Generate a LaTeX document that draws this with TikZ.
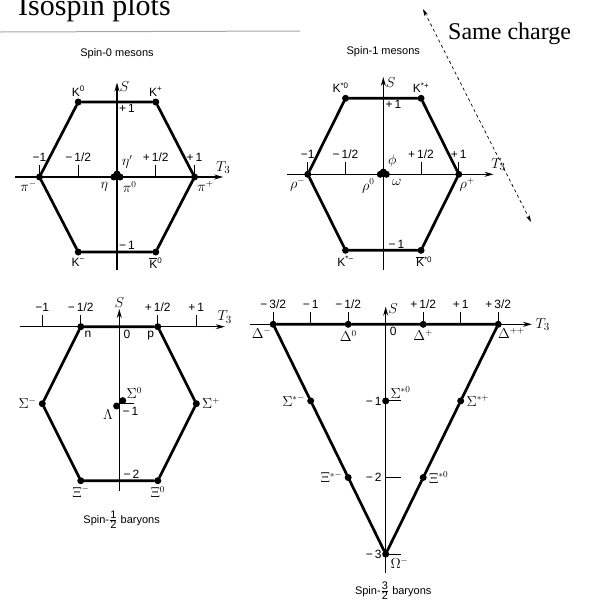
\documentclass[tikz,border=0pt]{standalone}
\usepackage{fontspec}
\setmainfont{Liberation Serif}
\setsansfont{Liberation Sans}
\usetikzlibrary{arrows.meta,positioning}
\tikzset{
  multiplet/.style={line width=2.7pt,line cap=round},
  axisline/.style={line width=1.1pt,-{Stealth[length=9pt,width=5pt]}},
  tickline/.style={line width=1.1pt},
  particle/.style={circle,fill,inner sep=0pt,minimum size=7pt},
  lbl/.style={font=\sffamily\fontsize{12}{13}\selectfont,inner sep=1pt},
  greek/.style={font=\fontsize{13.5}{14}\selectfont,inner sep=1pt},
  axislabel/.style={font=\fontsize{15}{16}\selectfont,inner sep=1pt},
  plottitle/.style={font=\sffamily\fontsize{11}{12}\selectfont},
}
\newcommand{\isotick}[3]{%
  \draw[tickline] (#2,0) -- ++(0,12pt) node[lbl,above=2pt] (#1) {#3};
}

\begin{document}
\begin{tikzpicture}[x=1pt,y=-1pt]
  \useasboundingbox (0,0) rectangle (598,603);
  % heading and the charge arrow
  \node[anchor=base west,font=\fontsize{30}{32}\selectfont,inner sep=0pt] (heading) at (18,15) {Isospin plots};
  \draw[gray!70,line width=1pt] (0,32) -- (300,31);
  \node[anchor=base west,font=\fontsize{24}{26}\selectfont,inner sep=0pt] (samecharge) at (448,39) {Same charge};
  \coordinate (chargetop) at (423,9);
  \coordinate (chargebot) at (531,222);
  \draw[line width=.7pt,dash pattern=on 3pt off 3pt,{Stealth[length=7pt,width=4pt]}-{Stealth[length=7pt,width=4pt]}] (chargetop) -- (chargebot);

  % spin-0 mesons
  \begin{scope}[shift={(117,177)},x=77.5pt,y=75pt]
    \node[plottitle] (spinzero) at (0,1.65) {Spin-0 mesons};
    \coordinate (a-left) at (-1.32,0);
    \coordinate (a-right) at (1.37,0);
    \coordinate (a-bot) at (0,-1.24);
    \coordinate (a-top) at (0,1.26);
    \draw[axisline] (a-left) -- (a-right) node[axislabel,above=2pt] (a-t3) {$T_3$};
    \draw[axisline] (a-bot) -- (a-top) node[axislabel,right=1pt,yshift=-4pt] (a-s) {$S$};
    \isotick{a-m1}{-1}{−1}
    \isotick{a-mh}{-.5}{−\,1/2}
    \isotick{a-ph}{.5}{+\,1/2}
    \isotick{a-p1}{1}{+\,1}
    \node[particle] (K0) at (-.5,1) {};
    \node[particle] (Kp) at (.5,1) {};
    \node[particle] (pip) at (1,0) {};
    \node[particle] (Kb0) at (.5,-1) {};
    \node[particle] (Km) at (-.5,-1) {};
    \node[particle] (pim) at (-1,0) {};
    \node[particle] (eta) at (-.04,0) {};
    \node[particle] (pi0) at (.04,0) {};
    \node[particle] (etap) at (0,.04) {};
    \draw[multiplet] (K0) -- (Kp) -- (pip) -- (Kb0) -- (Km) -- (pim) -- (K0);
    \node[lbl,above=1pt of K0] (K0l) {K\textsuperscript{0}};
    \node[lbl,above=1pt of Kp] (Kpl) {K\textsuperscript{+}};
    \node[lbl,below=1pt of Km] (Kml) {K\textsuperscript{−}};
    \node[lbl,below=1pt of Kb0] (Kb0l) {$\overline{\mbox{K}}$\textsuperscript{0}};
    \node[greek,below left=0pt and -1pt of pim] (piml) {$\pi^-$};
    \node[greek,below right=0pt and -1pt of pip] (pipl) {$\pi^+$};
    \node[greek,below left=1pt and 2pt of eta] (etal) {$\eta$};
    \node[greek,below right=1pt and -1pt of pi0] (pi0l) {$\pi^0$};
    \node[greek,above right=2pt and 1pt of etap] (etapl) {$\eta'$};
    \node[lbl,below right=1pt and 1pt] (a-s1) at (0,1) {+\,1};
    \node[lbl,above right=1pt and 1pt] (a-sm1) at (0,-1) {−\,1};
  \end{scope}

  % spin-1 mesons
  \begin{scope}[shift={(383.3,174.3)},x=75.5pt,y=76pt]
    \node[plottitle] (spinone) at (0,1.62) {Spin-1 mesons};
    \coordinate (b-left) at (-1.28,0);
    \coordinate (b-right) at (1.46,0);
    \coordinate (b-bot) at (0,-1.26);
    \coordinate (b-top) at (0,1.28);
    \draw[axisline] (b-left) -- (b-right) node[axislabel,above=2pt,xshift=5pt] (b-t3) {$T_3$};
    \draw[axisline] (b-bot) -- (b-top) node[axislabel,right=1pt,yshift=-6pt] (b-s) {$S$};
    \isotick{b-m1}{-1}{−1}
    \isotick{b-mh}{-.5}{−\,1/2}
    \isotick{b-ph}{.5}{+\,1/2}
    \isotick{b-p1}{1}{+\,1}
    \node[particle] (Ks0) at (-.5,1) {};
    \node[particle] (Ksp) at (.5,1) {};
    \node[particle] (rhop) at (1,0) {};
    \node[particle] (Ksb0) at (.5,-1) {};
    \node[particle] (Ksm) at (-.5,-1) {};
    \node[particle] (rhom) at (-1,0) {};
    \node[particle] (rho0) at (-.04,0) {};
    \node[particle] (omega) at (.04,0) {};
    \node[particle] (phi) at (0,.03) {};
    \draw[multiplet] (Ks0) -- (Ksp) -- (rhop) -- (Ksb0) -- (Ksm) -- (rhom) -- (Ks0);
    \node[lbl,above=1pt of Ks0,xshift=-5pt] (Ks0l) {K\textsuperscript{*0}};
    \node[lbl,above=1pt of Ksp] (Kspl) {K\textsuperscript{*+}};
    \node[lbl,below=1pt of Ksm] (Ksml) {K\textsuperscript{*−}};
    \node[lbl,below=1pt of Ksb0,xshift=3pt] (Ksb0l) {$\overline{\mbox{K}}$\textsuperscript{*0}};
    \node[greek,below left=0pt and -1pt of rhom] (rhoml) {$\rho^-$};
    \node[greek,below right=0pt and -3pt of rhop] (rhopl) {$\rho^+$};
    \node[greek,below left=1pt and 2pt of rho0] (rho0l) {$\rho^0$};
    \node[greek,below right=1pt and 2pt of omega] (omegal) {$\omega$};
    \node[greek,above right=1pt and 1pt of phi] (phil) {$\phi$};
    \node[lbl,below right=1pt and 1pt] (b-s1) at (0,1) {+\,1};
    \node[lbl,above right=1pt and 4pt] (b-sm1) at (0,-1) {−\,1};
  \end{scope}

  % spin-1/2 baryons
  \begin{scope}[shift={(119.3,326.7)},x=77pt,y=77pt]
    \node[plottitle] (spinhalf) at (.03,-2.51) {Spin-$\frac{\textsf{1}}{\textsf{2}}$ baryons};
    \coordinate (c-left) at (-1.29,0);
    \coordinate (c-right) at (1.37,0);
    \coordinate (c-bot) at (0,-2.13);
    \coordinate (c-top) at (0,.23);
    \draw[axisline] (c-left) -- (c-right) node[axislabel,above=2pt] (c-t3) {$T_3$};
    \draw[axisline] (c-bot) -- (c-top) node[axislabel,above=0pt] (c-s) {$S$};
    \isotick{c-m1}{-1}{−1}
    \isotick{c-mh}{-.5}{−\,1/2}
    \isotick{c-ph}{.5}{+\,1/2}
    \isotick{c-p1}{1}{+\,1}
    \draw[tickline] (0,-1) -- ++(15pt,0);
    \node[particle] (n) at (-.5,0) {};
    \node[particle] (p) at (.5,0) {};
    \node[particle] (Sp) at (1,-1) {};
    \node[particle] (X0) at (.5,-2) {};
    \node[particle] (Xm) at (-.5,-2) {};
    \node[particle] (Sm) at (-1,-1) {};
    \node[particle] (L) at (-.035,-1.03) {};
    \node[particle] (S0) at (.045,-.96) {};
    \draw[multiplet] (n) -- (p) -- (Sp) -- (X0) -- (Xm) -- (Sm) -- (n);
    \node[lbl,below right=1pt and 0pt of n] (nl) {n};
    \node[lbl,below left=1pt and 0pt of p] (pl) {p};
    \node[lbl,below right=2pt and 3pt] (c-zero) at (0,0) {0};
    \node[greek,left=1pt of Sm] (Sml) {$\Sigma^-$};
    \node[greek,right=1pt of Sp] (Spl) {$\Sigma^+$};
    \node[greek,below left=0pt and 0pt of L] (Ll) {$\Lambda$};
    \node[greek,above right=-2pt and 0pt of S0] (S0l) {$\Sigma^0$};
    \node[lbl,below right=2pt and 2pt] (c-sm1) at (0,-1) {−\,1};
    \node[lbl,above right=1pt and 3pt] (c-sm2) at (0,-2) {−\,2};
    \node[greek,below=1pt of Xm] (Xml) {$\Xi^-$};
    \node[greek,below=1pt of X0] (X0l) {$\Xi^0$};
  \end{scope}

  % spin-3/2 baryons
  \begin{scope}[shift={(385.7,324.3)},x=75pt,y=76.6pt]
    \node[plottitle] (spinthreehalf) at (.1,-3.48) {Spin-$\frac{\textsf{3}}{\textsf{2}}$ baryons};
    \coordinate (d-left) at (-1.81,0);
    \coordinate (d-right) at (1.95,0);
    \coordinate (d-bot) at (0,-3.25);
    \coordinate (d-top) at (0,.23);
    \draw[axisline] (d-left) -- (d-right) node[axislabel,right=2pt] (d-t3) {$T_3$};
    \draw[axisline] (d-bot) -- (d-top) node[axislabel,right=1pt,yshift=-2pt] (d-s) {$S$};
    \isotick{d-m3h}{-1.5}{−\,3/2}
    \isotick{d-m1}{-1}{−\,1}
    \isotick{d-mh}{-.5}{−\,1/2}
    \isotick{d-ph}{.5}{+\,1/2}
    \isotick{d-p1}{1}{+\,1}
    \isotick{d-p3h}{1.5}{+\,3/2}
    \draw[tickline] (0,-1) -- ++(15pt,0);
    \draw[tickline] (0,-2) -- ++(15pt,0);
    \draw[tickline] (0,-3) -- ++(15pt,0);
    \node[particle] (Dm) at (-1.5,0) {};
    \node[particle] (D0) at (-.5,0) {};
    \node[particle] (Dp) at (.5,0) {};
    \node[particle] (Dpp) at (1.5,0) {};
    \node[particle] (Ssm) at (-1,-1) {};
    \node[particle] (Ss0) at (0,-1) {};
    \node[particle] (Ssp) at (1,-1) {};
    \node[particle] (Xsm) at (-.5,-2) {};
    \node[particle] (Xs0) at (.5,-2) {};
    \node[particle] (Om) at (0,-3) {};
    \draw[multiplet] (Dm) -- (D0) -- (Dp) -- (Dpp) -- (Ssp) -- (Xs0) -- (Om) -- (Xsm) -- (Ssm) -- (Dm);
    \node[greek,below left=0pt and -2pt of Dm] (Dml) {$\Delta^-$};
    \node[greek,below=1pt of D0] (D0l) {$\Delta^0$};
    \node[greek,below=1pt of Dp] (Dpl) {$\Delta^+$};
    \node[greek,below right=0pt and -4pt of Dpp] (Dppl) {$\Delta^{++}$};
    \node[lbl,below right=2pt and 3pt] (d-zero) at (0,0) {0};
    \node[greek,left=1pt of Ssm] (Ssml) {$\Sigma^{*-}$};
    \node[greek,above right=-1pt and 1pt of Ss0] (Ss0l) {$\Sigma^{*0}$};
    \node[greek,right=1pt of Ssp] (Sspl) {$\Sigma^{*+}$};
    \node[greek,left=1pt of Xsm] (Xsml) {$\Xi^{*-}$};
    \node[greek,right=1pt of Xs0] (Xs0l) {$\Xi^{*0}$};
    \node[greek,below right=0pt and 1pt of Om] (Oml) {$\Omega^-$};
    \node[lbl,left=3pt] (d-sm1) at (0,-1) {−\,1};
    \node[lbl,left=3pt] (d-sm2) at (0,-2) {−\,2};
    \node[lbl,left=3pt] (d-sm3) at (0,-3) {−\,3};
  \end{scope}
\end{tikzpicture}
\end{document}
